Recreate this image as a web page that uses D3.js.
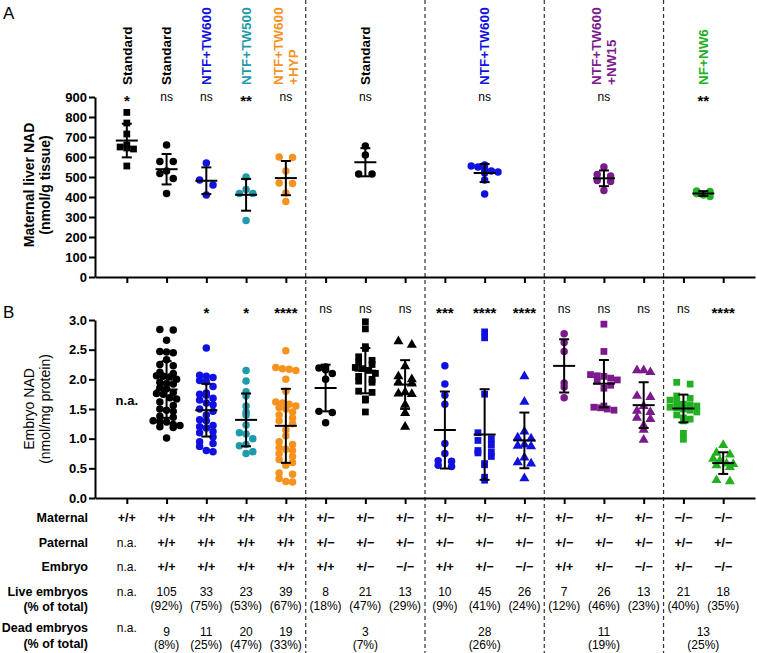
<!DOCTYPE html>
<html>
<head>
<meta charset="utf-8">
<script src="https://cdn.jsdelivr.net/npm/d3@7"></script>
<style>
  body { margin: 0; background: #fff; }
  text { font-family: "Liberation Sans", Arial, sans-serif; fill: #000; }
</style>
</head>
<body>
<script>
// ---- data ----
// panel A: maternal liver NAD, one group per maternal diet
const aLabels = [["Standard"], ["Standard"], ["NTF+TW600"], ["NTF+TW500"], ["NTF+TW600", "+HYP"],
                 ["Standard"], ["NTF+TW600"], ["NTF+TW600", "+NW15"], ["NF+NW6"]];
const aSpan = [[0], [1], [2], [3], [4], [5, 7], [8, 10], [11, 13], [14, 15]];   // table columns covered
const aDiet = ["std", "std", "tw600", "tw500", "hyp", "std", "tw600", "nw15", "nw6"];
const aShape = ["square", "circle", "circle", "circle", "circle", "circle", "circle", "circle", "circle"];
const aSig = ["*", "ns", "ns", "**", "ns", "ns", "ns", "ns", "**"];
const aValues = [
  [823, 770, 715, 660, 645, 640, 650, 555],
  [660, 577, 577, 530, 518, 493, 418],
  [570, 460, 485, 410],
  [500, 418, 437, 418, 282],
  [600, 598, 530, 470, 467, 420, 377],
  [655, 610, 515, 515],
  [560, 555, 550, 540, 530, 525, 520, 485, 415],
  [550, 512, 505, 482, 478, 433],
  [430, 428, 418, 410, 402]
];

// panel B: embryo NAD, one group per table column
const bDiet = [null, "std", "tw600", "tw500", "hyp", "std", "std", "std", "tw600", "tw600", "tw600",
               "nw15", "nw15", "nw15", "nw6", "nw6"];
const bShape = [null, "circle", "circle", "circle", "circle", "circle", "square", "triangle", "circle", "square",
                "triangle", "circle", "square", "triangle", "square", "triangle"];
const bSig = ["", "", "*", "*", "****", "ns", "ns", "ns", "***", "****", "****", "ns", "ns", "ns", "ns", "****"];
const bValues = [
  [],
  [2.84, 2.83, 2.66, 2.47, 2.46, 2.45, 2.33, 2.25, 2.23, 2.12, 2.10, 2.06, 2.05, 2.04, 1.95, 2.0, 1.93, 1.92,
   1.86, 1.84, 1.75, 1.78, 1.76, 1.69, 1.67, 1.62, 1.56, 1.5, 1.48, 1.46, 1.38, 1.36, 1.30, 1.29, 1.28,
   1.24, 1.22, 1.20, 1.19, 1.01],
  [2.53, 2.07, 2.05, 2.03, 1.98, 1.96, 1.88, 1.77, 1.75, 1.73, 1.68, 1.65, 1.60, 1.57, 1.50, 1.46, 1.40,
   1.32, 1.30, 1.22, 1.20, 1.18, 1.12, 1.10, 1.03, 0.95, 0.92, 0.87, 0.80, 0.78],
  [2.15, 1.97, 1.79, 1.72, 1.55, 1.45, 1.40, 1.23, 1.10, 1.08, 1.00, 0.90, 0.88, 0.78, 0.75],
  [2.48, 2.20, 2.18, 2.17, 2.15, 2.00, 1.80, 1.62, 1.60, 1.58, 1.55, 1.52, 1.50, 1.45, 1.40, 1.35, 1.30,
   1.25, 1.15, 1.05, 0.95, 0.90, 0.85, 0.82, 0.80, 0.75, 0.70, 0.65, 0.60, 0.55, 0.42, 0.40, 0.33, 0.28, 0.27],
  [2.21, 2.19, 2.16, 2.10, 2.00, 1.46, 1.44, 1.27],
  [2.97, 2.85, 2.55, 2.52, 2.38, 2.32, 2.28, 2.25, 2.20, 2.18, 2.15, 2.10, 2.05, 2.00, 1.97, 1.95, 1.80,
   1.78, 1.67, 1.65, 1.45],
  [2.64, 2.58, 2.22, 2.05, 2.00, 1.95, 1.93, 1.78, 1.76, 1.75, 1.57, 1.43, 1.20],
  [2.23, 1.92, 1.73, 1.58, 0.92, 0.75, 0.63, 0.62, 0.55, 0.53],
  [2.80, 2.70, 1.75, 1.10, 1.00, 0.97, 0.90, 0.80, 0.78, 0.76, 0.70, 0.58, 0.56, 0.35, 0.30],
  [2.05, 1.62, 1.12, 1.02, 1.00, 0.90, 0.88, 0.87, 0.68, 0.60, 0.58, 0.33],
  [2.77, 2.62, 2.47, 1.94, 1.87, 1.69],
  [2.93, 2.47, 2.08, 2.06, 2.05, 2.02, 1.99, 1.97, 1.90, 1.85, 1.55, 1.53, 1.52, 1.50, 1.48],
  [2.12, 2.15, 2.15, 1.72, 1.70, 1.55, 1.47, 1.45, 1.35, 1.33, 1.22, 1.15, 0.98],
  [1.95, 1.92, 1.72, 1.68, 1.65, 1.62, 1.58, 1.56, 1.55, 1.53, 1.52, 1.50, 1.48, 1.45, 1.40, 1.35, 1.33,
   1.30, 1.09, 0.99],
  [0.89, 0.76, 0.73, 0.66, 0.63, 0.58, 0.57, 0.55, 0.52, 0.30, 0.28]
];

// genotype table
const columns = d3.range(16);
const blockStarts = [5, 8, 11, 14];
const maternal = ["+/+", "+/+", "+/+", "+/+", "+/+", "+/−", "+/−", "+/−", "+/−", "+/−", "+/−", "+/−", "+/−", "+/−", "−/−", "−/−"];
const paternal = ["n.a.", "+/+", "+/+", "+/+", "+/+", "+/−", "+/−", "+/−", "+/−", "+/−", "+/−", "+/−", "+/−", "+/−", "+/−", "+/−"];
const embryo = ["n.a.", "+/+", "+/+", "+/+", "+/+", "+/+", "+/−", "−/−", "+/+", "+/−", "−/−", "+/+", "+/−", "−/−", "+/−", "−/−"];
const liveN = ["n.a.", "105", "33", "23", "39", "8", "21", "13", "10", "45", "26", "7", "26", "13", "21", "18"];
const livePct = ["", "(92%)", "(75%)", "(53%)", "(67%)", "(18%)", "(47%)", "(29%)", "(9%)", "(41%)", "(24%)",
                 "(12%)", "(46%)", "(23%)", "(40%)", "(35%)"];
const deadN = ["n.a.", "9", "11", "20", "19", "3", "28", "11", "13"];      // per aSpan group
const deadPct = ["", "(8%)", "(25%)", "(47%)", "(33%)", "(7%)", "(26%)", "(19%)", "(25%)"];

const dietColor = { std: "#000000", tw600: "#1010e0", tw500: "#1f9aab", hyp: "#f7921e", nw15: "#7b1a8c", nw6: "#22b022" };

// ---- svg ----
const width = 757, height = 653;
const svg = d3.select("body").append("svg")
  .attr("width", width)
  .attr("height", height);

const x = d3.scalePoint().domain(columns).range([95, 755]).padding(0.8);
const yA = d3.scaleLinear().domain([0, 900]).range([277, 97]);
const yB = d3.scaleLinear().domain([0, 3]).range([498, 320]);
const spanX = s => d3.mean(s, c => x(c));

// dashed separators
svg.selectAll(".sep")
  .data(blockStarts)
  .enter()
  .append("line")
    .attr("x1", d => (x(d - 1) + x(d)) / 2)
    .attr("x2", d => (x(d - 1) + x(d)) / 2)
    .attr("y1", 0)
    .attr("y2", height)
    .attr("stroke", "#333")
    .attr("stroke-width", 1.2)
    .attr("stroke-dasharray", "4,3");

// axes
function styleAxis(g) {
  g.selectAll("path, line").attr("stroke", "#000").attr("stroke-width", 2);
  g.selectAll("text").style("font-size", "13px").style("font-weight", "bold")
    .style("font-family", '"Liberation Sans", Arial, sans-serif');
}
svg.append("g").attr("transform", "translate(95,0)")
  .call(d3.axisLeft(yA).tickValues(d3.range(0, 901, 100)).tickSize(6).tickSizeOuter(0).tickPadding(2))
  .call(styleAxis);
svg.append("g").attr("transform", "translate(95,0)")
  .call(d3.axisLeft(yB).tickValues(d3.range(0, 3.01, 0.5)).tickFormat(d3.format(".1f"))
    .tickSize(6).tickSizeOuter(0).tickPadding(2))
  .call(styleAxis);
svg.append("g").attr("transform", `translate(0,${yA(0)})`)
  .call(d3.axisBottom(x).tickSize(6).tickSizeOuter(0).tickFormat(""))
  .call(styleAxis);
svg.append("g").attr("transform", `translate(0,${yB(0)})`)
  .call(d3.axisBottom(x).tickSize(6).tickSizeOuter(0).tickFormat(""))
  .call(styleAxis);

// axis titles
function yTitle(lines, cy, weight) {
  lines.forEach((t, i) => {
    svg.append("text")
      .attr("transform", `translate(${34 + i * 16},${cy}) rotate(-90)`)
      .attr("text-anchor", "middle")
      .style("font-size", "14px")
      .style("font-weight", weight)
      .text(t);
  });
}
yTitle(["Maternal liver NAD", "(nmol/g tissue)"], (yA(0) + yA(900)) / 2 - 2, "bold");
yTitle(["Embryo NAD", "(nmol/mg protein)"], (yB(0) + yB(3)) / 2, "normal");

svg.append("text").attr("x", 3).attr("y", 19).style("font-size", "17px").text("A");
svg.append("text").attr("x", 3).attr("y", 318).style("font-size", "17px").text("B");

// scatter layout: points in the same row band are spread side by side
const shapeType = { circle: d3.symbolCircle, square: d3.symbolSquare, triangle: d3.symbolTriangle };
const shapeSize = { circle: 44, square: 46, triangle: 44 };
function swarm(vals, y, cx, step) {
  const rows = d3.groups(vals.slice().sort((a, b) => b - a), v => Math.round(y(v) / 6.5));
  const pts = [];
  rows.forEach(([, vs]) => {
    const n = vs.length;
    vs.forEach((v, k) => {
      const off = n === 2 ? (k ? step : -step) : (k - (n - 1) / 2) * step;
      pts.push({ x: cx + off, y: y(v) });
    });
  });
  return pts;
}

function drawGroup(vals, y, cx, shape, color) {
  const pts = swarm(vals, y, cx, 6.7);
  svg.append("g").selectAll("path")
    .data(pts)
    .enter()
    .append("path")
      .attr("transform", d => `translate(${d.x},${d.y})`)
      .attr("d", d3.symbol().type(shapeType[shape]).size(shapeSize[shape]))
      .attr("fill", color);
  const m = d3.mean(vals), sd = d3.deviation(vals);
  const g = svg.append("g").attr("stroke", "#000").attr("stroke-width", 2);
  g.append("line").attr("x1", cx - 11).attr("x2", cx + 11).attr("y1", y(m)).attr("y2", y(m));
  g.append("line").attr("x1", cx).attr("x2", cx).attr("y1", y(m + sd)).attr("y2", y(m - sd));
  [m + sd, m - sd].forEach(e => {
    g.append("line").attr("x1", cx - 5).attr("x2", cx + 5).attr("y1", y(e)).attr("y2", y(e));
  });
}

function sigText(s, cx, cy) {
  if (!s) return;
  const star = s[0] === "*";
  svg.append("text")
    .attr("x", cx)
    .attr("y", star ? cy + 8.5 : cy + 3.5)
    .attr("text-anchor", "middle")
    .style("font-size", star ? "15px" : "12px")
    .style("font-weight", star ? "bold" : "normal")
    .text(s);
}

// panel A
aValues.forEach((vals, i) => {
  const cx = spanX(aSpan[i]);
  drawGroup(vals, yA, cx, aShape[i], dietColor[aDiet[i]]);
  aLabels[i].forEach((t, j, arr) => {
    svg.append("text")
      .attr("transform", `translate(${cx + (j - (arr.length - 1) / 2) * 15},85) rotate(-90)`)
      .attr("dy", "0.35em")
      .style("font-size", "13.5px")
      .style("font-weight", "bold")
      .style("fill", dietColor[aDiet[i]])
      .text(t);
  });
  sigText(aSig[i], cx, 97);
});

// panel B
bValues.forEach((vals, i) => {
  const cx = x(i);
  if (vals.length) drawGroup(vals, yB, cx, bShape[i], dietColor[bDiet[i]]);
  sigText(bSig[i], cx, 309);
});
svg.append("text")
  .attr("x", x(0)).attr("y", yB(1.65)).attr("dy", "0.35em")
  .attr("text-anchor", "middle")
  .style("font-size", "13px").style("font-weight", "bold")
  .text("n.a.");

// genotype table
const rowLabels = [["Maternal", 518], ["Paternal", 543], ["Embryo", 567], ["Live embryos", 592],
                   ["(% of total)", 607], ["Dead embryos", 628], ["(% of total)", 644]];
svg.selectAll(".rowlab")
  .data(rowLabels)
  .enter()
  .append("text")
    .attr("x", 88)
    .attr("y", d => d[1])
    .attr("dy", "0.35em")
    .attr("text-anchor", "end")
    .style("font-size", "12.5px")
    .style("font-weight", "bold")
    .text(d => d[0]);

function cell(t, cx, cy) {
  const plain = t === "n.a." || t[0] === "(" || /^\d/.test(t);
  svg.append("text")
    .attr("x", cx)
    .attr("y", cy)
    .attr("dy", "0.35em")
    .attr("text-anchor", "middle")
    .style("font-size", plain ? "12px" : "12.5px")
    .style("font-weight", plain ? "normal" : "bold")
    .text(t);
}
columns.forEach(c => {
  cell(maternal[c], x(c), 518);
  cell(paternal[c], x(c), 543);
  cell(embryo[c], x(c), 567);
  cell(liveN[c], x(c), 592);
  if (livePct[c]) cell(livePct[c], x(c), 606);
});
aSpan.forEach((s, i) => {
  const cx = spanX(s);
  if (deadN[i] === "n.a.") cell(deadN[i], cx, 628);
  else {
    cell(deadN[i], cx, 632);
    cell(deadPct[i], cx, 645);
  }
});
</script>
</body>
</html>
